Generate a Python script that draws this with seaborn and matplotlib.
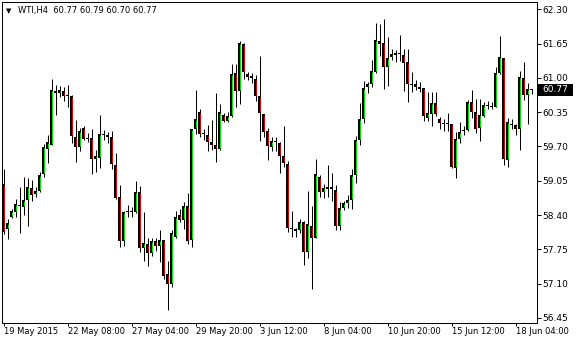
import matplotlib
matplotlib.use("Agg")
import matplotlib.pyplot as plt
import matplotlib.transforms as mtransforms
from matplotlib.patches import Rectangle
import seaborn as sns
import pandas as pd

# ---------------- data (WTI, H4) ----------------
opens = [58.99, 58.14, 58.36, 58.45, 58.58, 58.56, 58.68, 58.91, 58.80, 58.86,
         59.18, 59.66, 59.73, 60.75, 60.71, 60.75, 60.68, 60.66, 59.88, 59.68,
         60.05, 59.84, 59.86, 59.46, 59.49, 59.91, 59.92, 59.88, 59.35, 58.74,
         57.90, 58.46, 58.48, 58.45, 58.83, 57.77, 57.85, 57.68, 57.90, 57.81,
         57.92, 57.29, 57.09, 57.99, 58.40, 58.30, 58.58, 57.92, 60.03, 60.35,
         59.93, 59.91, 59.78, 59.73, 59.65, 60.30, 60.19, 60.28, 61.10, 60.76,
         61.64, 61.07, 61.04, 60.97, 60.66, 60.31, 59.99, 59.68, 59.79, 59.77,
         59.52, 59.37, 58.16, 58.09, 58.11, 58.27, 57.69, 58.20, 57.96, 59.12,
         58.83, 58.89, 58.93, 58.88, 58.20, 58.53, 58.62, 58.68, 59.15, 59.82,
         60.22, 60.83, 60.88, 61.12, 61.70, 61.66, 61.21, 61.40, 61.43, 61.46,
         61.43, 61.30, 60.87, 60.88, 60.83, 60.80, 60.23, 60.31, 60.52, 60.22,
         60.15, 60.13, 60.12, 59.29, 59.84, 59.99, 60.01, 60.55, 60.35, 60.05,
         60.28, 60.46, 60.45, 60.44, 61.09, 61.37, 59.45, 60.11, 60.10, 60.03,
         60.99, 60.67, 60.77]

highs = [59.28, 58.32, 58.51, 58.70, 58.94, 59.12, 59.10, 59.07, 58.93, 59.22,
         59.75, 59.92, 60.97, 60.86, 60.85, 60.82, 60.86, 60.67, 60.20, 60.05,
         60.08, 59.96, 60.03, 59.63, 60.30, 60.01, 59.97, 59.99, 59.58, 58.97,
         58.48, 58.59, 58.56, 59.05, 58.95, 58.46, 57.97, 57.96, 57.96, 58.12,
         57.93, 57.53, 58.12, 58.48, 58.52, 58.64, 58.82, 60.03, 60.77, 60.41,
         60.03, 60.10, 60.20, 60.72, 60.51, 60.33, 60.35, 61.26, 61.26, 61.69,
         61.66, 61.11, 61.09, 61.06, 61.42, 60.32, 60.05, 59.87, 59.87, 59.79,
         60.08, 59.43, 58.48, 58.15, 58.32, 58.29, 58.85, 58.58, 59.46, 59.15,
         58.99, 59.35, 59.20, 58.97, 58.64, 58.67, 58.78, 59.27, 59.89, 60.52,
         60.94, 60.93, 61.34, 62.04, 62.02, 62.11, 61.77, 61.54, 61.53, 61.82,
         61.54, 61.54, 61.11, 60.96, 60.92, 60.80, 60.73, 60.74, 60.74, 60.25,
         60.22, 60.33, 60.13, 59.98, 60.16, 60.08, 60.58, 60.77, 60.60, 60.60,
         60.55, 60.57, 60.55, 61.21, 61.80, 61.37, 60.24, 60.22, 60.13, 61.13,
         61.30, 60.90, 60.79]

lows = [58.04, 57.94, 58.34, 58.37, 58.06, 58.40, 58.20, 58.66, 58.74, 58.83,
        59.12, 59.39, 59.73, 60.30, 60.64, 60.57, 60.45, 59.77, 59.41, 59.62,
        59.82, 59.79, 59.18, 59.21, 59.29, 59.83, 59.77, 59.28, 58.70, 57.80,
        57.82, 58.37, 58.37, 58.44, 57.69, 57.52, 57.43, 57.63, 57.72, 57.50,
        57.19, 56.59, 57.03, 57.97, 58.26, 58.14, 57.85, 57.80, 59.94, 59.87,
        59.83, 59.62, 59.64, 59.41, 59.64, 60.17, 60.17, 60.25, 60.44, 60.51,
        60.97, 60.96, 60.91, 60.57, 59.81, 59.87, 59.45, 59.62, 59.61, 59.19,
        59.31, 58.07, 57.99, 57.99, 58.06, 57.46, 57.58, 57.00, 57.96, 58.75,
        58.73, 58.75, 58.67, 58.12, 58.12, 58.50, 58.53, 58.52, 59.01, 59.72,
        60.15, 60.72, 60.83, 61.10, 61.42, 60.79, 60.85, 61.33, 61.31, 61.32,
        60.76, 60.54, 60.74, 60.77, 60.73, 60.18, 60.18, 60.08, 60.27, 60.03,
        60.00, 59.99, 59.30, 59.11, 59.76, 59.92, 59.99, 60.23, 59.96, 59.81,
        60.25, 60.41, 60.41, 60.44, 61.07, 59.34, 59.31, 60.03, 59.91, 59.64,
        60.58, 60.12, 60.70]

closes = [58.08, 58.25, 58.47, 58.61, 58.59, 58.69, 58.93, 58.78, 58.86, 59.16,
          59.69, 59.79, 60.77, 60.71, 60.77, 60.65, 60.65, 59.89, 59.68, 59.99,
          59.84, 59.84, 59.46, 59.52, 59.93, 59.91, 59.87, 59.36, 58.73, 57.90,
          58.45, 58.47, 58.45, 58.83, 57.77, 57.87, 57.68, 57.90, 57.81, 57.92,
          57.25, 57.10, 58.06, 58.36, 58.30, 58.57, 57.91, 60.03, 60.22, 59.93,
          59.93, 59.78, 59.73, 59.65, 60.35, 60.19, 60.28, 61.07, 60.76, 61.67,
          61.12, 61.02, 60.99, 60.66, 60.33, 59.97, 59.70, 59.81, 59.79, 59.52,
          59.39, 58.16, 58.13, 58.13, 58.27, 57.69, 58.23, 57.97, 59.18, 58.83,
          58.91, 58.93, 58.89, 58.20, 58.53, 58.63, 58.69, 59.16, 59.82, 60.22,
          60.80, 60.89, 61.13, 61.72, 61.64, 61.21, 61.37, 61.46, 61.48, 61.45,
          61.29, 60.88, 60.87, 60.82, 60.79, 60.27, 60.33, 60.52, 60.32, 60.14,
          60.12, 60.13, 59.31, 59.84, 59.97, 60.01, 60.55, 60.35, 60.03, 60.29,
          60.49, 60.46, 60.45, 61.09, 61.39, 59.46, 60.16, 60.13, 60.03, 61.01,
          60.67, 60.79, 60.77]

tick_bars = [0, 16, 32, 48, 64, 80, 96, 112, 128]
tick_labels = ["19 May 2015", "22 May 08:00", "27 May 04:00", "29 May 20:00",
               "3 Jun 12:00", "8 Jun 04:00", "10 Jun 20:00", "15 Jun 12:00",
               "18 Jun 04:00"]
price_ticks = [56.45, 57.10, 57.75, 58.40, 59.05, 59.70, 60.35, 61.00, 61.65, 62.30]
title = "WTI,H4  60.77 60.79 60.70 60.77"

# ---------------- style ----------------
sns.set_style("white")
plt.rcParams["font.family"] = ["DejaVu Sans"]
FS_Y = 6.5
FS_X = 6.0
BULL = "#00e600"
BEAR = "#e00000"

W, H = 580, 340
Y0, Y1 = 56.353, 62.438
AX_H = 321.0
ppd = AX_H / (Y1 - Y0)      # pixels per price unit
pix = 1.0 / ppd             # one pixel in price units

df = pd.DataFrame({"open": opens, "high": highs, "low": lows, "close": closes})
df["bar"] = range(len(df))
df["bottom"] = df[["open", "close"]].min(axis=1)
df["top"] = df[["open", "close"]].max(axis=1)
df["color"] = [BULL if c > o else BEAR for o, c in zip(df["open"], df["close"])]
df["outer_h"] = (df["top"] - df["bottom"]).clip(lower=pix)
df["inner_lo"] = df["bottom"] + pix
df["inner_hi"] = df["top"] - pix

fig = plt.figure(figsize=(W / 100, H / 100), dpi=100)
fig.patch.set_facecolor("white")
ax = fig.add_axes([2 / W, (H - 323.0) / H, 535 / W, AX_H / H])
ax.set_facecolor("white")

px = 72 / 100  # one pixel in points
# wicks
ax.vlines(df["bar"], df["low"], df["high"], color="black", linewidth=px, zorder=2)
# black body outline (3 px wide)
ax.bar(df["bar"], df["outer_h"], bottom=df["bottom"], width=0.75,
       color="black", linewidth=0, zorder=3)
# coloured body fill (1 px wide column inside the outline)
inner = df[df["inner_hi"] > df["inner_lo"]]
ax.vlines(inner["bar"], inner["inner_lo"], inner["inner_hi"], colors=inner["color"],
          linewidth=px, zorder=4)

ax.set_xlim(-0.375, -0.375 + 535 / 4)
ax.set_ylim(Y0, Y1)

for s in ax.spines.values():
    s.set_color("black")
    s.set_linewidth(px)
    s.set_visible(True)

ax.yaxis.tick_right()
ax.set_yticks(price_ticks)
ax.set_yticklabels([f"{v:.2f}" for v in price_ticks])
ax.set_xticks(tick_bars)
ax.set_xticklabels(tick_labels, ha="left")
ax.tick_params(axis="y", which="both", direction="out", length=4 * px,
               width=px, color="black", pad=1.2, labelsize=FS_Y, labelcolor="black",
               right=True, left=False)
ax.tick_params(axis="x", which="both", direction="out", length=3 * px,
               width=px, color="black", pad=1.0, labelsize=FS_X, labelcolor="black",
               bottom=True)
for lab in ax.get_xticklabels():
    lab.set_transform(lab.get_transform() + mtransforms.ScaledTranslation(1.0 / 100, 0, fig.dpi_scale_trans))
ax.grid(False)

# last price marker on the right axis
last = closes[-1]
trans = mtransforms.blended_transform_factory(ax.transAxes, ax.transData)
box_h = 12 * pix
ax.add_patch(Rectangle((1 + 1 / 535, last - box_h / 2), 35 / 535, box_h,
                       transform=trans, facecolor="black", edgecolor="none",
                       clip_on=False, zorder=5))
ax.text(1 + 5 / 535, last, f"{last:.2f}", transform=trans, color="white",
        fontsize=FS_Y, va="center", ha="left", zorder=6, clip_on=False)

# title
fig.text(6 / W, 1 - 11 / H, "\u25bc", fontsize=5, color="black", va="center", ha="left")
fig.text(18 / W, 1 - 11 / H, title, fontsize=FS_X, color="black", va="center", ha="left")

fig.savefig("out.png", dpi=100, facecolor="white")
